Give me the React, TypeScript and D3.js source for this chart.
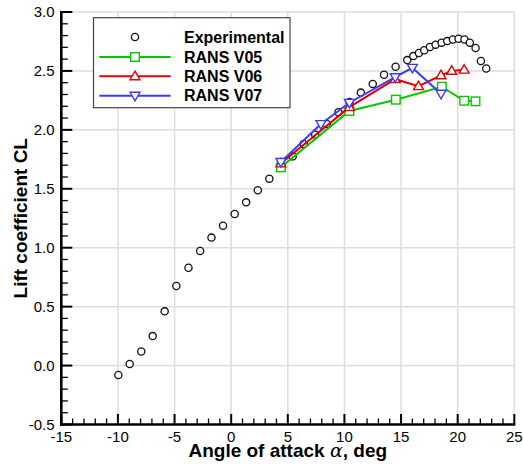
import React from "react";
import * as d3 from "d3";

const expAlpha = [-9.96, -8.96, -7.94, -6.93, -5.87, -4.84, -3.77, -2.74, -1.74, -0.72, 0.31, 1.32, 2.35, 3.37, 4.4, 5.43, 6.4, 7.42, 8.45, 9.47, 10.45, 11.45, 12.5, 13.5, 14.52, 15.55, 16.08, 16.58, 17.05, 17.55, 18.05, 18.58, 19.08, 19.58, 20.08, 20.6, 21.07, 21.58, 22.05, 22.52];
const expCL = [-0.08, 0.014, 0.12, 0.25, 0.46, 0.675, 0.83, 0.972, 1.086, 1.187, 1.286, 1.385, 1.487, 1.586, 1.69, 1.775, 1.88, 1.96, 2.05, 2.15, 2.236, 2.316, 2.39, 2.467, 2.536, 2.592, 2.626, 2.652, 2.675, 2.703, 2.723, 2.74, 2.753, 2.767, 2.773, 2.767, 2.74, 2.694, 2.584, 2.52];

const v05Alpha = [4.39, 10.44, 14.54, 18.6, 20.57, 21.57];
const v05CL = [1.682, 2.16, 2.256, 2.366, 2.247, 2.242];

const v06Alpha = [4.39, 10.44, 14.48, 16.54, 18.53, 19.47, 20.57];
const v06CL = [1.715, 2.193, 2.43, 2.37, 2.462, 2.5, 2.51];

const v07Alpha = [4.39, 7.92, 10.44, 14.48, 16.0, 18.53];
const v07CL = [1.728, 2.05, 2.23, 2.448, 2.527, 2.307];

const xTicks = [-15, -10, -5, 0, 5, 10, 15, 20, 25];
const yTicks = [-0.5, 0, 0.5, 1, 1.5, 2, 2.5, 3];
const yTickLabels = ["-0.5", "0.0", "0.5", "1.0", "1.5", "2.0", "2.5", "3.0"];
const seriesNames = ["Experimental", "RANS V05", "RANS V06", "RANS V07"];

const FONT = "'Liberation Sans', Arial, Helvetica, sans-serif";
const GREEN = "#00c800";
const RED = "#e00000";
const BLUE = "#3a3aff";

const x = d3.scaleLinear().domain([-15, 25]).range([61.3, 514.3]);
const y = d3.scaleLinear().domain([-0.5, 3]).range([424.5, 12]);

function Square({ cx, cy, color }: { cx: number; cy: number; color: string }) {
  const s = 4.3;
  return <rect x={cx - s} y={cy - s} width={2 * s} height={2 * s} fill="white" stroke={color} strokeWidth={1.4} />;
}
function TriUp({ cx, cy, color }: { cx: number; cy: number; color: string }) {
  const s = 5.2;
  const p = `${cx},${cy - s} ${cx + s * 0.95},${cy + s * 0.65} ${cx - s * 0.95},${cy + s * 0.65}`;
  return <polygon points={p} fill="white" stroke={color} strokeWidth={1.4} />;
}
function TriDown({ cx, cy, color }: { cx: number; cy: number; color: string }) {
  const s = 5.2;
  const p = `${cx},${cy + s} ${cx + s * 0.95},${cy - s * 0.65} ${cx - s * 0.95},${cy - s * 0.65}`;
  return <polygon points={p} fill="white" stroke={color} strokeWidth={1.4} />;
}
function Circ({ cx, cy }: { cx: number; cy: number }) {
  return <circle cx={cx} cy={cy} r={3.6} fill="white" stroke="#111" strokeWidth={1.3} />;
}

export default function App() {
  const line = d3.line<[number, number]>().x((d) => x(d[0])).y((d) => y(d[1]));
  const zip = (a: number[], b: number[]) => a.map((v, i) => [v, b[i]] as [number, number]);
  const v05 = zip(v05Alpha, v05CL);
  const v06 = zip(v06Alpha, v06CL);
  const v07 = zip(v07Alpha, v07CL);
  const exp = zip(expAlpha, expCL);

  const xMinor = d3.range(-15, 25.001, 1).filter((v) => Math.abs(v % 5) > 1e-6);
  const yMinor = d3.range(-0.5, 3.0001, 0.1).filter((v) => Math.abs((v * 10) % 5) > 1e-6 && Math.abs(((v * 10) % 5) - 5) > 1e-6 && Math.abs(((v * 10) % 5) + 5) > 1e-6);

  const x0 = x(-15);
  const y0 = y(-0.5);

  const legX = 93.5, legY = 17.7, legW = 196.5, legH = 90;
  const legRows = [37, 57, 76.3, 95.7];

  return (
    <svg width={523} height={465} style={{ position: "absolute", left: 0, top: 0, background: "white" }} fontFamily={FONT}>
      <rect x={0} y={0} width={523} height={465} fill="white" />
      {/* grid */}
      {xTicks.filter((t) => t !== -15).map((t) => (
        <line key={"gx" + t} x1={x(t)} x2={x(t)} y1={y(3)} y2={y0} stroke="#dddddd" strokeWidth={1.5} />
      ))}
      {yTicks.filter((t) => t !== -0.5).map((t) => (
        <line key={"gy" + t} x1={x0} x2={x(25)} y1={y(t)} y2={y(t)} stroke="#dddddd" strokeWidth={1.5} />
      ))}

      {/* experimental */}
      {exp.map((d, i) => (
        <Circ key={"e" + i} cx={x(d[0])} cy={y(d[1])} />
      ))}

      {/* V05 */}
      <path d={line(v05) || ""} fill="none" stroke={GREEN} strokeWidth={2} />
      {v05.map((d, i) => (
        <Square key={"s" + i} cx={x(d[0])} cy={y(d[1])} color={GREEN} />
      ))}
      {/* V06 */}
      <path d={line(v06) || ""} fill="none" stroke={RED} strokeWidth={2} />
      {v06.map((d, i) => (
        <TriUp key={"t" + i} cx={x(d[0])} cy={y(d[1])} color={RED} />
      ))}
      {/* V07 */}
      <path d={line(v07) || ""} fill="none" stroke={BLUE} strokeWidth={2} />
      {v07.map((d, i) => (
        <TriDown key={"d" + i} cx={x(d[0])} cy={y(d[1])} color={BLUE} />
      ))}

      {/* axes */}
      <line x1={x0} x2={x0} y1={y(3) - 1} y2={y0 + 1.2} stroke="black" strokeWidth={2.6} />
      <line x1={x0 - 1.2} x2={x(25) + 1} y1={y0} y2={y0} stroke="black" strokeWidth={2.6} />
      {yTicks.map((t) => (
        <line key={"yt" + t} x1={x0} x2={x0 + 11} y1={y(t)} y2={y(t)} stroke="black" strokeWidth={2} />
      ))}
      {yMinor.map((t, i) => (
        <line key={"ym" + i} x1={x0} x2={x0 + 6.5} y1={y(t)} y2={y(t)} stroke="black" strokeWidth={1.3} />
      ))}
      {xTicks.map((t) => (
        <line key={"xt" + t} x1={x(t)} x2={x(t)} y1={y0} y2={y0 - 10.5} stroke="black" strokeWidth={2} />
      ))}
      {xMinor.map((t, i) => (
        <line key={"xm" + i} x1={x(t)} x2={x(t)} y1={y0} y2={y0 - 6} stroke="black" strokeWidth={1.3} />
      ))}
      {yTicks.map((t, i) => (
        <text key={"yl" + t} x={54.5} y={y(t)} dy="0.35em" textAnchor="end" fontSize={15} fill="black">
          {yTickLabels[i]}
        </text>
      ))}
      {xTicks.map((t) => (
        <text key={"xl" + t} x={x(t)} y={442} textAnchor="middle" fontSize={15} fill="black">
          {String(t)}
        </text>
      ))}

      {/* axis titles */}
      <text x={(x0 + x(25)) / 2} y={457} textAnchor="middle" fontSize={19} fontWeight="bold" fill="black">
        Angle of attack <tspan fontFamily="'DejaVu Serif', serif" fontWeight="normal" fontStyle="italic">α</tspan>, deg
      </text>
      <text transform={`translate(27,${(y(3) + y0) / 2}) rotate(-90)`} textAnchor="middle" fontSize={19} fontWeight="bold" fill="black">
        Lift coefficient CL
      </text>

      {/* legend */}
      <rect x={legX} y={legY} width={legW} height={legH} fill="white" stroke="#444" strokeWidth={1.2} />
      <Circ cx={135} cy={legRows[0]} />
      <line x1={99.3} x2={170.7} y1={legRows[1]} y2={legRows[1]} stroke={GREEN} strokeWidth={2} />
      <Square cx={135} cy={legRows[1]} color={GREEN} />
      <line x1={99.3} x2={170.7} y1={legRows[2]} y2={legRows[2]} stroke={RED} strokeWidth={2} />
      <TriUp cx={135} cy={legRows[2]} color={RED} />
      <line x1={99.3} x2={170.7} y1={legRows[3]} y2={legRows[3]} stroke={BLUE} strokeWidth={2} />
      <TriDown cx={135} cy={legRows[3]} color={BLUE} />
      {seriesNames.map((n, i) => (
        <text key={n} x={184} y={legRows[i]} dy="0.36em" fontSize={16} fontWeight="bold" fill="black">
          {n}
        </text>
      ))}
    </svg>
  );
}
